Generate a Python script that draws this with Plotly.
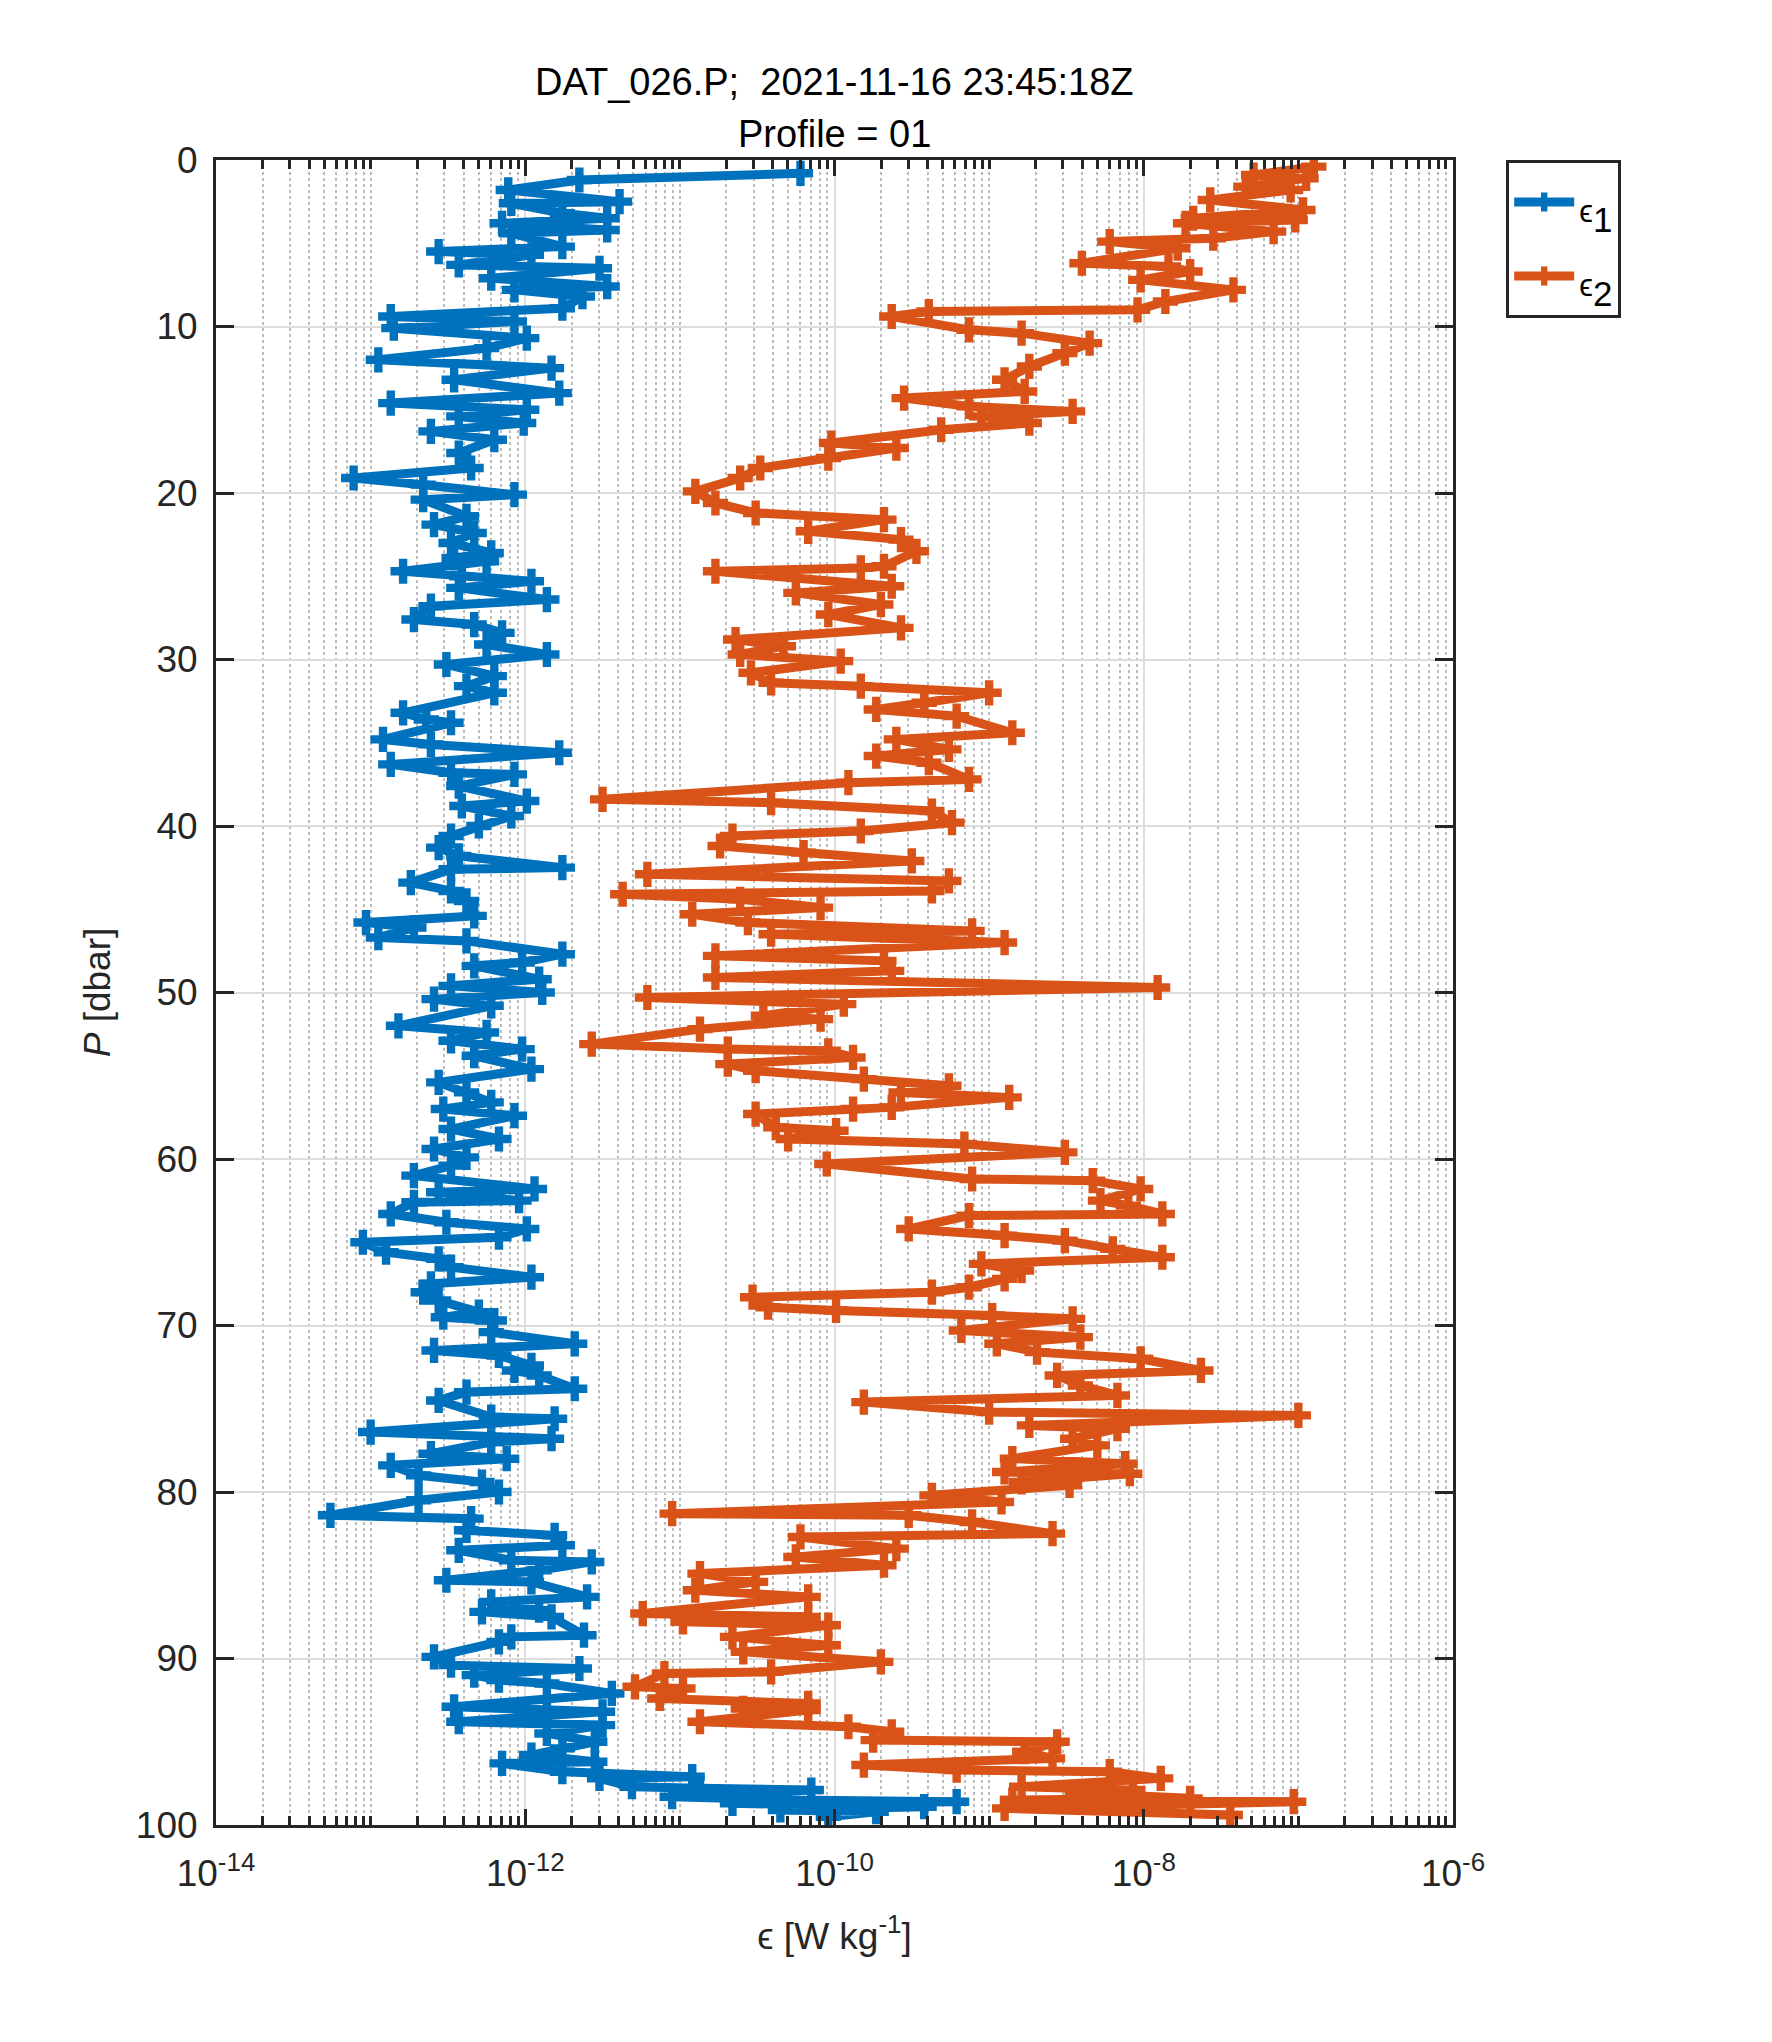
import plotly.graph_objects as go

# pressure [dbar] and log10(epsilon), shear probe 1
p1 = [0.8, 1.2, 1.8, 2.5, 2.6, 3.2, 3.5, 3.8, 4.2, 4.4, 5.2, 5.5, 5.7, 6.3, 6.5, 7.1, 7.6, 7.8, 8.2, 8.9,
      9.4, 9.7, 10.1, 10.7, 11.3, 12.0, 12.5, 13.2, 14.0, 14.6, 15.0, 15.4, 15.8, 16.3, 16.8, 17.6, 18.5, 19.1, 19.5, 20.1,
      20.4, 21.4, 21.9, 22.4, 23.0, 23.6, 23.9, 24.1, 24.7, 25.0, 25.3, 25.7, 26.4, 26.8, 27.6, 27.9, 28.4, 29.1, 29.7, 30.3,
      31.0, 31.6, 32.0, 33.2, 33.6, 33.8, 34.8, 35.1, 35.6, 36.3, 36.8, 36.9, 37.6, 38.5, 38.8, 39.4, 40.0, 40.6, 41.3, 41.8,
      42.5, 42.6, 43.4, 43.9, 44.5, 45.4, 45.8, 46.1, 46.7, 46.9, 47.7, 48.2, 48.4, 49.2, 49.6, 50.0, 50.4, 50.8, 52.0, 52.4,
      52.9, 53.4, 53.8, 54.6, 55.4, 56.0, 56.6, 57.0, 57.4, 58.2, 58.8, 59.4, 59.9, 60.4, 61.0, 61.8, 62.0, 62.5, 62.6, 63.3,
      63.8, 64.2, 64.7, 65.0, 65.6, 66.0, 66.5, 67.1, 67.5, 68.0, 68.5, 69.2, 69.5, 69.7, 70.4, 71.1, 71.5, 71.8, 72.4, 72.7,
      73.0, 73.8, 74.0, 74.5, 75.5, 75.6, 76.4, 76.8, 77.0, 77.7, 78.0, 78.4, 79.0, 79.4, 80.0, 80.5, 81.4, 81.6, 82.3, 82.6,
      83.2, 83.5, 84.1, 84.2, 84.7, 85.3, 85.4, 86.3, 86.6, 87.1, 87.2, 87.5, 88.6, 88.7, 89.0, 89.9, 90.4, 90.6, 91.0, 91.3,
      91.5, 92.1, 92.9, 93.2, 93.4, 93.8, 94.0, 94.5, 95.0, 95.4, 95.8, 96.2, 96.3, 96.8, 97.1, 97.2, 97.7, 97.8, 97.9, 98.3,
      98.5, 98.6, 98.7, 98.9, 99.1, 99.2, 99.5]
e1_log10 = [-10.22, -11.65, -12.11, -11.39, -12.09, -11.76, -11.47, -12.15, -11.47, -12.09, -11.76, -12.56, -11.96, -12.43, -11.52, -12.22, -11.47, -12.07, -11.63, -11.76,
            -12.87, -12.07, -12.85, -11.99, -12.25, -12.95, -11.83, -12.46, -11.78, -12.87, -11.99, -12.43, -12.01, -12.61, -12.20, -12.43, -12.35, -13.11, -12.66, -12.07,
            -12.66, -12.38, -12.59, -12.33, -12.48, -12.22, -12.46, -12.25, -12.79, -12.41, -11.96, -12.43, -11.86, -12.61, -12.72, -12.33, -12.15, -12.25, -11.86, -12.51,
            -12.20, -12.38, -12.20, -12.79, -12.64, -12.48, -12.92, -12.61, -11.78, -12.87, -12.48, -12.07, -12.43, -11.99, -12.41, -12.09, -12.30, -12.48, -12.56, -12.43,
            -11.76, -12.48, -12.74, -12.48, -12.38, -12.33, -13.03, -12.72, -12.95, -12.38, -11.76, -12.02, -12.33, -11.91, -12.48, -11.89, -12.59, -12.22, -12.82, -12.25,
            -12.48, -12.02, -12.33, -11.96, -12.56, -12.38, -12.22, -12.53, -12.07, -12.48, -12.17, -12.59, -12.38, -12.48, -12.72, -11.94, -12.56, -12.04, -12.72, -12.87,
            -12.51, -11.99, -12.17, -13.05, -12.90, -12.56, -12.48, -11.96, -12.61, -12.66, -12.56, -12.30, -12.53, -12.20, -12.22, -11.68, -12.59, -12.17, -11.96, -12.07,
            -11.91, -11.68, -12.38, -12.56, -12.22, -11.81, -13.00, -11.83, -12.22, -12.61, -12.12, -12.87, -12.69, -12.28, -12.17, -12.69, -13.26, -12.35, -12.38, -11.81,
            -11.76, -12.43, -12.09, -11.57, -11.91, -12.51, -11.96, -11.60, -12.22, -11.91, -12.28, -11.83, -11.62, -12.09, -12.17, -12.59, -12.48, -11.65, -12.33, -12.17,
            -11.86, -11.44, -12.46, -11.50, -11.86, -12.43, -11.50, -11.86, -11.55, -11.76, -11.96, -11.55, -12.15, -11.76, -10.92, -11.52, -11.31, -10.87, -10.15, -11.05,
            -10.30, -9.21, -10.66, -9.42, -10.35, -9.73, -10.04]

# shear probe 2
p2 = [0.4, 0.9, 1.1, 1.6, 1.8, 2.4, 3.0, 3.5, 3.6, 3.8, 4.3, 4.7, 4.9, 5.3, 6.2, 6.4, 6.7, 7.2, 7.8, 8.5,
      9.0, 9.1, 9.4, 10.2, 10.4, 11.0, 11.6, 12.4, 13.2, 13.9, 14.3, 14.8, 15.1, 15.4, 15.8, 16.2, 17.0, 17.3, 17.9, 18.5,
      19.1, 19.9, 20.6, 21.2, 21.6, 22.3, 22.8, 23.5, 24.4, 24.5, 24.7, 25.6, 26.0, 26.7, 27.3, 28.1, 28.8, 29.2, 29.7, 30.1,
      30.8, 31.4, 31.6, 32.0, 32.6, 33.0, 33.4, 34.4, 34.8, 35.4, 35.8, 36.2, 37.2, 37.4, 38.4, 38.6, 39.1, 39.8, 40.3, 40.6,
      41.2, 41.6, 42.1, 42.9, 43.3, 43.9, 44.1, 44.4, 44.9, 45.3, 45.8, 46.3, 46.5, 47.0, 47.8, 48.1, 48.7, 49.1, 49.7, 50.3,
      50.7, 51.4, 51.6, 52.2, 53.1, 53.4, 53.5, 53.9, 54.3, 54.7, 55.2, 55.6, 56.0, 56.3, 56.9, 57.0, 57.3, 58.1, 58.3, 58.8,
      59.1, 59.6, 60.3, 61.2, 61.3, 61.8, 62.5, 62.8, 63.3, 63.4, 64.2, 64.6, 64.9, 65.4, 65.9, 66.3, 66.7, 67.2, 67.7, 68.0,
      68.3, 68.9, 69.1, 69.4, 69.6, 70.3, 70.7, 71.1, 71.6, 72.0, 72.7, 73.0, 73.6, 74.2, 74.6, 75.2, 75.4, 76.0, 76.2, 76.8,
      77.2, 78.0, 78.3, 78.8, 78.9, 79.4, 79.6, 80.2, 80.6, 81.3, 81.4, 81.8, 82.5, 82.7, 83.4, 83.9, 84.4, 84.9, 85.4, 85.9,
      86.3, 87.3, 87.5, 87.8, 88.0, 88.7, 89.2, 89.6, 90.2, 90.8, 90.9, 91.7, 91.8, 92.4, 92.7, 93.0, 93.1, 93.8, 94.1, 94.4,
      94.9, 95.0, 95.6, 96.0, 96.4, 96.7, 96.8, 97.2, 97.7, 97.9, 98.1, 98.4, 98.5, 98.6, 99.0, 99.4]
e2_log10 = [-6.90, -7.29, -6.95, -7.34, -7.05, -7.57, -6.97, -7.68, -7.02, -7.73, -7.16, -7.55, -8.22, -7.78, -8.40, -7.84, -7.70, -8.02, -7.42, -7.86,
            -8.04, -9.39, -9.63, -9.13, -8.79, -8.35, -8.51, -8.74, -8.90, -8.77, -9.55, -9.13, -8.46, -9.05, -8.74, -9.31, -10.02, -9.60, -10.04, -10.48,
            -10.61, -10.90, -10.77, -10.51, -9.68, -10.17, -9.57, -9.47, -9.68, -9.83, -10.77, -9.63, -10.25, -9.70, -10.04, -9.57, -10.64, -10.33, -10.61, -9.96,
            -10.54, -10.41, -9.83, -9.00, -9.42, -9.73, -9.21, -8.85, -9.60, -9.26, -9.73, -9.39, -9.13, -9.91, -11.50, -10.41, -9.37, -9.24, -9.83, -10.66,
            -10.74, -10.20, -9.50, -11.21, -9.26, -9.37, -11.37, -10.61, -10.09, -10.92, -10.56, -9.11, -10.41, -8.90, -10.77, -9.68, -9.63, -10.77, -7.91, -11.21,
            -9.94, -10.46, -10.09, -10.87, -11.57, -10.69, -10.04, -9.88, -10.69, -10.51, -9.81, -9.26, -9.57, -8.87, -9.63, -9.88, -10.51, -10.38, -9.99, -10.30,
            -9.16, -8.51, -10.05, -9.11, -8.33, -8.02, -8.28, -8.10, -7.88, -9.13, -9.52, -8.90, -8.51, -8.20, -7.88, -9.05, -8.79, -8.90, -9.13, -9.37,
            -10.53, -10.43, -9.99, -8.98, -8.46, -9.18, -8.41, -8.95, -8.69, -8.02, -7.63, -8.56, -8.41, -8.17, -9.81, -9.00, -7.00, -8.74, -8.17, -8.46,
            -8.30, -8.85, -8.12, -8.90, -8.09, -8.79, -8.48, -9.37, -8.92, -11.05, -9.52, -9.11, -8.59, -10.22, -9.60, -10.25, -9.68, -10.87, -10.51, -10.90,
            -10.17, -11.24, -10.17, -10.98, -10.04, -10.66, -10.04, -10.59, -9.70, -10.41, -11.10, -11.29, -10.98, -11.13, -10.17, -10.59, -10.17, -10.87, -9.91, -9.63,
            -9.75, -8.56, -8.77, -8.59, -9.81, -9.21, -8.22, -7.89, -8.79, -8.07, -8.43, -7.70, -8.85, -7.03, -8.90, -7.44]

x_tickvals = [1e-14, 1e-12, 1e-10, 1e-8, 1e-6]
x_ticktext = ["10<sup>-14</sup>", "10<sup>-12</sup>", "10<sup>-10</sup>", "10<sup>-8</sup>", "10<sup>-6</sup>"]
y_tickvals = [0, 10, 20, 30, 40, 50, 60, 70, 80, 90, 100]

blue = "#0072BD"
orange = "#D95319"
font = "Liberation Sans, Arial, sans-serif"

# minor ticks: 1..9 in every decade, minus the labelled ones
minor_vals = [m * 10.0 ** d for d in range(-14, -6) for m in range(1, 10)]
minor_vals = [v for v in minor_vals if v not in x_tickvals]

fig = go.Figure()
traces = [(p1, e1_log10, blue, "1"), (p2, e2_log10, orange, "2")]
for p, e, c, k in traces:
    fig.add_trace(go.Scatter(
        x=[10 ** v for v in e], y=p, mode="lines+markers",
        name="<span style='font-size:31px'>ϵ</span><sub>" + k + "</sub>",
        legendgroup=k,
        line=dict(color=c, width=9),
        marker=dict(symbol="cross", size=21, color=c, line=dict(width=0)),
    ))

fig.update_layout(
    width=1772, height=2042,
    margin=dict(l=208, r=327, t=152, b=225),
    paper_bgcolor="white", plot_bgcolor="white",
    font=dict(family=font, size=37, color="#262626"),
    showlegend=True,
    legend=dict(x=1.043, y=1.0, xanchor="left", yanchor="top",
                bordercolor="#262626", borderwidth=3, bgcolor="white",
                font=dict(size=50, color="black"), itemwidth=60, tracegroupgap=6),
    annotations=[
        dict(text="DAT_026.P;\u00a0 2021-11-16 23:45:18Z", x=0.5, y=1.047, xref="paper", yref="paper",
             showarrow=False, font=dict(size=38, color="black"), yanchor="middle"),
        dict(text="Profile = 01", x=0.5, y=1.0156, xref="paper", yref="paper",
             showarrow=False, font=dict(size=38, color="black"), yanchor="middle"),
    ],
)

fig.update_xaxes(
    type="log", range=[-14, -6],
    tickvals=x_tickvals, ticktext=x_ticktext,
    ticks="inside", ticklen=16, tickwidth=2.5, tickcolor="#262626",
    showline=True, linewidth=3, linecolor="#262626", mirror="ticks",
    showgrid=True, gridcolor="#dcdcdc", gridwidth=2,
    minor=dict(tickvals=minor_vals, ticks="inside", ticklen=9, tickwidth=2.5, tickcolor="#262626",
               showgrid=True, gridcolor="#bcbcbc", gridwidth=2, griddash="dot"),
    tickfont=dict(size=37),
    ticklabelstandoff=14,
    title=dict(text="ϵ [W kg<sup>-1</sup>]", standoff=30, font=dict(size=37)),
    zeroline=False,
)
fig.update_yaxes(
    range=[100, 0], tickvals=y_tickvals,
    ticks="inside", ticklen=18, tickwidth=3, tickcolor="#262626",
    showline=True, linewidth=3, linecolor="#262626", mirror="ticks",
    showgrid=True, gridcolor="#dcdcdc", gridwidth=2,
    tickfont=dict(size=37),
    ticklabelstandoff=8,
    title=dict(text="<i>P</i> [dbar]", standoff=14, font=dict(size=37)),
    zeroline=False,
)

fig.write_html("out.html")
